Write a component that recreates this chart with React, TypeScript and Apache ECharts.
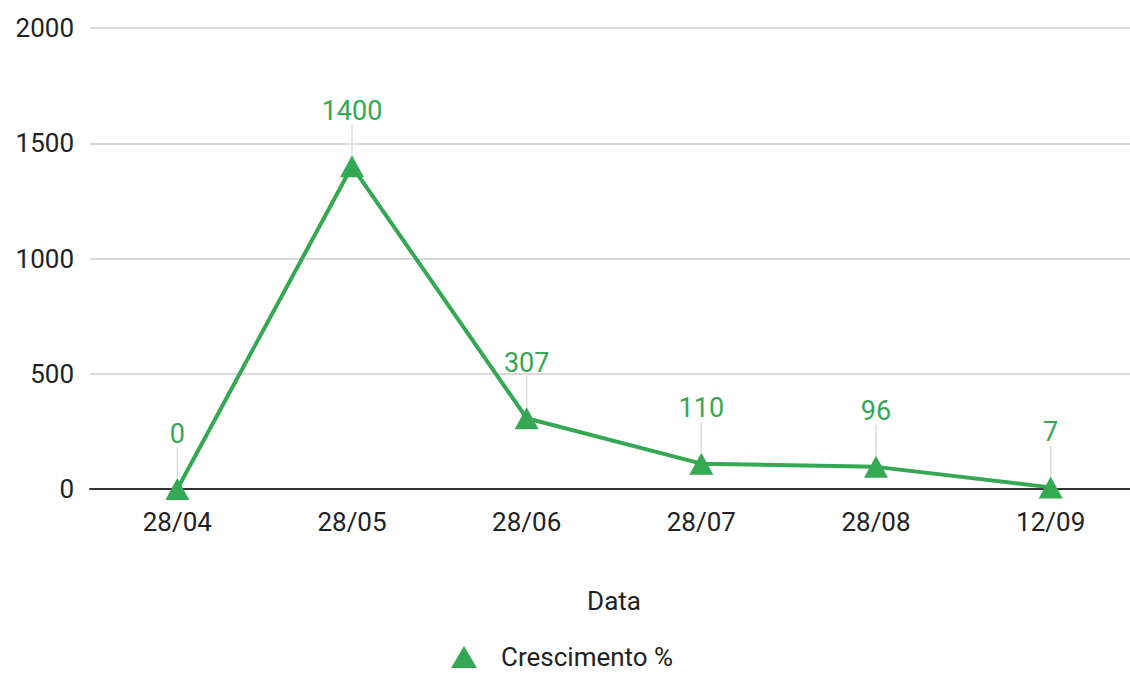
import React, { useEffect, useRef } from "react";
import * as echarts from "echarts";

const categories = ["28/04", "28/05", "28/06", "28/07", "28/08", "12/09"];
const growth = [0, 1400, 307, 110, 96, 7];
const seriesName = "Crescimento %";
const xAxisName = "Data";
const yMin = 0;
const yMax = 2000;
const yInterval = 500;

export default function App() {
  const ref = useRef<HTMLDivElement>(null);
  useEffect(() => {
    if (!ref.current) return;
    const chart = echarts.init(ref.current, null, { renderer: "svg" });
    const green = "#34a853";
    chart.setOption({
      animation: false,
      textStyle: { fontFamily: "Roboto" },
      grid: { left: 90, width: 1048, top: 28, bottom: 184, outerBoundsMode: "none", containLabel: false },
      legend: {
        top: 644,
        left: 451,
        padding: 0,
        icon: "triangle",
        itemWidth: 26,
        itemHeight: 22,
        textStyle: {
          fontSize: 26,
          lineHeight: 24,
          color: "#222",
          fontFamily: "Roboto",
          padding: [0, 0, 0, 19],
        },
        data: [seriesName],
      },
      xAxis: {
        type: "category",
        data: categories,
        name: xAxisName,
        nameLocation: "middle",
        nameGap: 99,
        nameTextStyle: { fontSize: 26, color: "#222", fontFamily: "Roboto" },
        axisLine: { lineStyle: { color: "#333", width: 2 } },
        axisTick: { show: false },
        axisLabel: { fontSize: 26, color: "#222", margin: 20, fontFamily: "Roboto" },
      },
      yAxis: {
        type: "value",
        min: yMin,
        max: yMax,
        interval: yInterval,
        axisLine: { show: false },
        axisTick: { show: false },
        axisLabel: {
          fontSize: 26,
          color: "#222",
          margin: 16,
          fontFamily: "Roboto",
          formatter: (v: number) => String(v),
        },
        splitLine: { lineStyle: { color: "#cccccc", width: 1.5 } },
      },
      series: [
        {
          name: seriesName,
          type: "line",
          data: growth,
          symbol: "triangle",
          symbolSize: [24, 22],
          itemStyle: { color: green },
          lineStyle: { color: green, width: 4 },
          label: {
            show: true,
            position: "top",
            distance: 5,
            fontSize: 27,
            color: green,
            fontFamily: "Roboto",
          },
          labelLayout: { dy: -26 },
          labelLine: { show: true, lineStyle: { color: "#dddddd", width: 1.5 } },
          z: 3,
        },
      ],
    });
    return () => chart.dispose();
  }, []);
  return (
    <div
      ref={ref}
      style={{ position: "absolute", left: 0, top: 0, width: 1130, height: 673 }}
    />
  );
}
